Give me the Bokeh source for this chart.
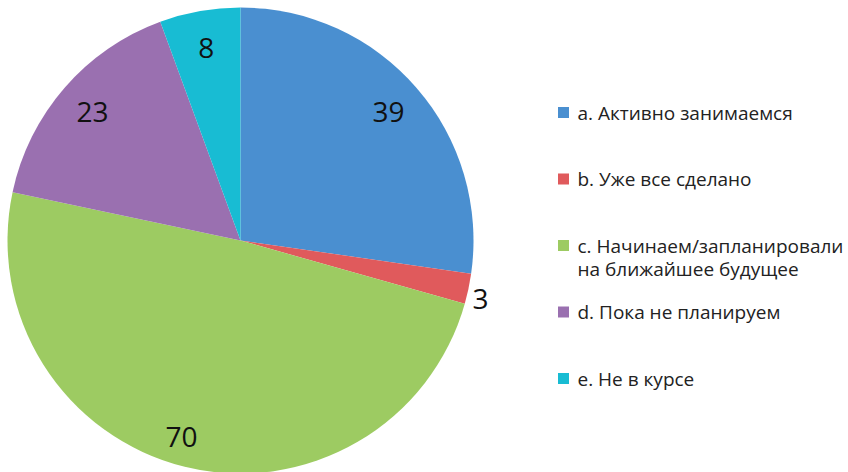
import math
from bokeh.plotting import figure
from bokeh.models import ColumnDataSource, Range1d
from bokeh.core.properties import value
from bokeh.embed import file_html
from bokeh.resources import INLINE

categories = ["a. Активно занимаемся", "b. Уже все сделано",
              "c. Начинаем/запланировали\nна ближайшее будущее",
              "d. Пока не планируем", "e. Не в курсе"]
values = [39, 3, 70, 23, 8]
colors = ["#4A8FD0", "#E05A5C", "#9DCB62", "#9A70B0", "#18BCD3"]

W, H = 848, 472
p = figure(width=W, height=H, output_backend="svg", toolbar_location=None,
           x_range=Range1d(0, W), y_range=Range1d(0, H), min_border=0)
p.axis.visible = False
p.grid.visible = False
p.outline_line_color = None
p.background_fill_color = "white"

cx, cy, r = 240, H - 240, 233
total = sum(values)
starts, ends, mids = [], [], []
cum = 0
for v in values:
    a0 = math.pi / 2 - cum / total * 2 * math.pi
    cum += v
    a1 = math.pi / 2 - cum / total * 2 * math.pi
    starts.append(a0); ends.append(a1); mids.append((a0 + a1) / 2)

src = ColumnDataSource(dict(start=starts, end=ends, color=colors))
p.wedge(x=cx, y=cy, radius=r, start_angle="start", end_angle="end",
        direction="clock", fill_color="color", line_color=None, source=src)

# data labels
lx, ly = [], []
for v, m in zip(values, mids):
    share = v / total
    if share < 0.05:
        f, m2 = 1.06, m - 0.03
    elif share > 0.4:
        f, m2 = 0.88, m - 0.05
    else:
        f, m2 = 0.84, m
    lx.append(cx + f * r * math.cos(m2))
    ly.append(cy + f * r * math.sin(m2))
p.text(x=lx, y=ly, text=[str(v) for v in values], text_align="center",
       text_baseline="middle", text_font=value("Open Sans"),
       text_font_size="28px", text_color="#111111")

# legend
sq_x, tx = 563, 577
top_y = H - 112
step = 66.5
for i, (lab, col) in enumerate(zip(categories, colors)):
    y = top_y - i * step
    p.scatter(x=[sq_x], y=[y], marker="square", size=11, fill_color=col,
              line_color=None)
    for j, line in enumerate(lab.split("\n")):
        p.text(x=[tx], y=[y - j * 23], text=[line], text_align="left",
               text_baseline="middle", text_font=value("Open Sans"),
               text_font_size="19px", text_color="#222222")

open("out.html", "w").write(file_html(p, INLINE))
